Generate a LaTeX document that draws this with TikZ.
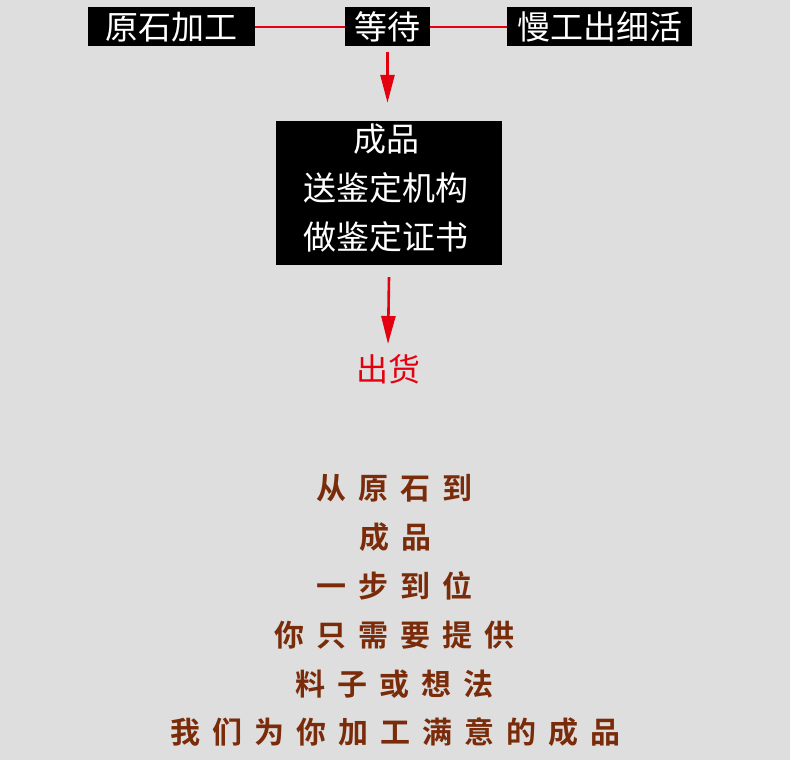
\documentclass[tikz,border=0pt]{standalone}
\usepackage{fontspec}
\setmainfont{Noto Sans CJK SC}
\newfontfamily\cjkbold{Noto Sans CJK SC Bold}
\usetikzlibrary{arrows.meta}
\definecolor{bg}{HTML}{DEDEDE}
\definecolor{redline}{HTML}{E3000F}
\definecolor{brownt}{HTML}{7A2C0A}
\newcommand{\gp}{\hspace{12pt}}
\tikzset{
  blackbox/.style={fill=black, text=white, inner sep=0pt, font=\fontsize{33}{38}\selectfont},
  conn/.style={redline, line width=2pt},
  downarrow/.style={redline, line width=2.6pt, -{Triangle[length=28pt,width=14pt]}},
  slogan/.style={text=brownt, inner sep=0pt, font=\cjkbold\fontsize{30}{36}\selectfont},
}
\begin{document}
\begin{tikzpicture}[x=1pt,y=-1pt]
\fill[bg] (0,0) rectangle (790,760);
\useasboundingbox (0,0) rectangle (790,760);
\node[blackbox, minimum width=167pt, minimum height=39pt] (raw) at (171.5,27) {原石加工};
\node[blackbox, minimum width=85pt, minimum height=39pt] (wait) at (387.5,27) {等待};
\node[blackbox, minimum width=185pt, minimum height=39pt] (slow) at (599.5,27) {慢工出细活};
\draw[conn] (raw.east) -- (raw.east -| wait.west);
\draw[conn] (wait.east) -- (wait.east -| slow.west);
\node[fill=black, minimum width=226pt, minimum height=144pt, inner sep=0pt] (prod) at (389,193) {};
\node[text=white, inner sep=0pt, align=center, font=\fontsize{33}{49}\selectfont] (prodtext) at (386,188) {成品\\送鉴定机构\\做鉴定证书};
\node[text=redline, inner sep=0pt, font=\fontsize{32}{36}\selectfont] (ship) at (388,369) {出货};
\draw[downarrow] ([yshift=-5pt]wait.south) -- ([yshift=18pt]prod.north -| wait.south);
\draw[downarrow] ([yshift=-12pt]prod.south) -- ([yshift=10pt]ship.north);
\node[slogan] (s1) at (394,488) {从\gp 原\gp 石\gp 到};
\node[slogan] (s2) at (395,537) {成\gp 品};
\node[slogan] (s3) at (394,586) {一\gp 步\gp 到\gp 位};
\node[slogan] (s4) at (394,635) {你\gp 只\gp 需\gp 要\gp 提\gp 供};
\node[slogan] (s5) at (394,684) {料\gp 子\gp 或\gp 想\gp 法};
\node[slogan] (s6) at (395,732) {我\gp 们\gp 为\gp 你\gp 加\gp 工\gp 满\gp 意\gp 的\gp 成\gp 品};
\end{tikzpicture}
\end{document}
